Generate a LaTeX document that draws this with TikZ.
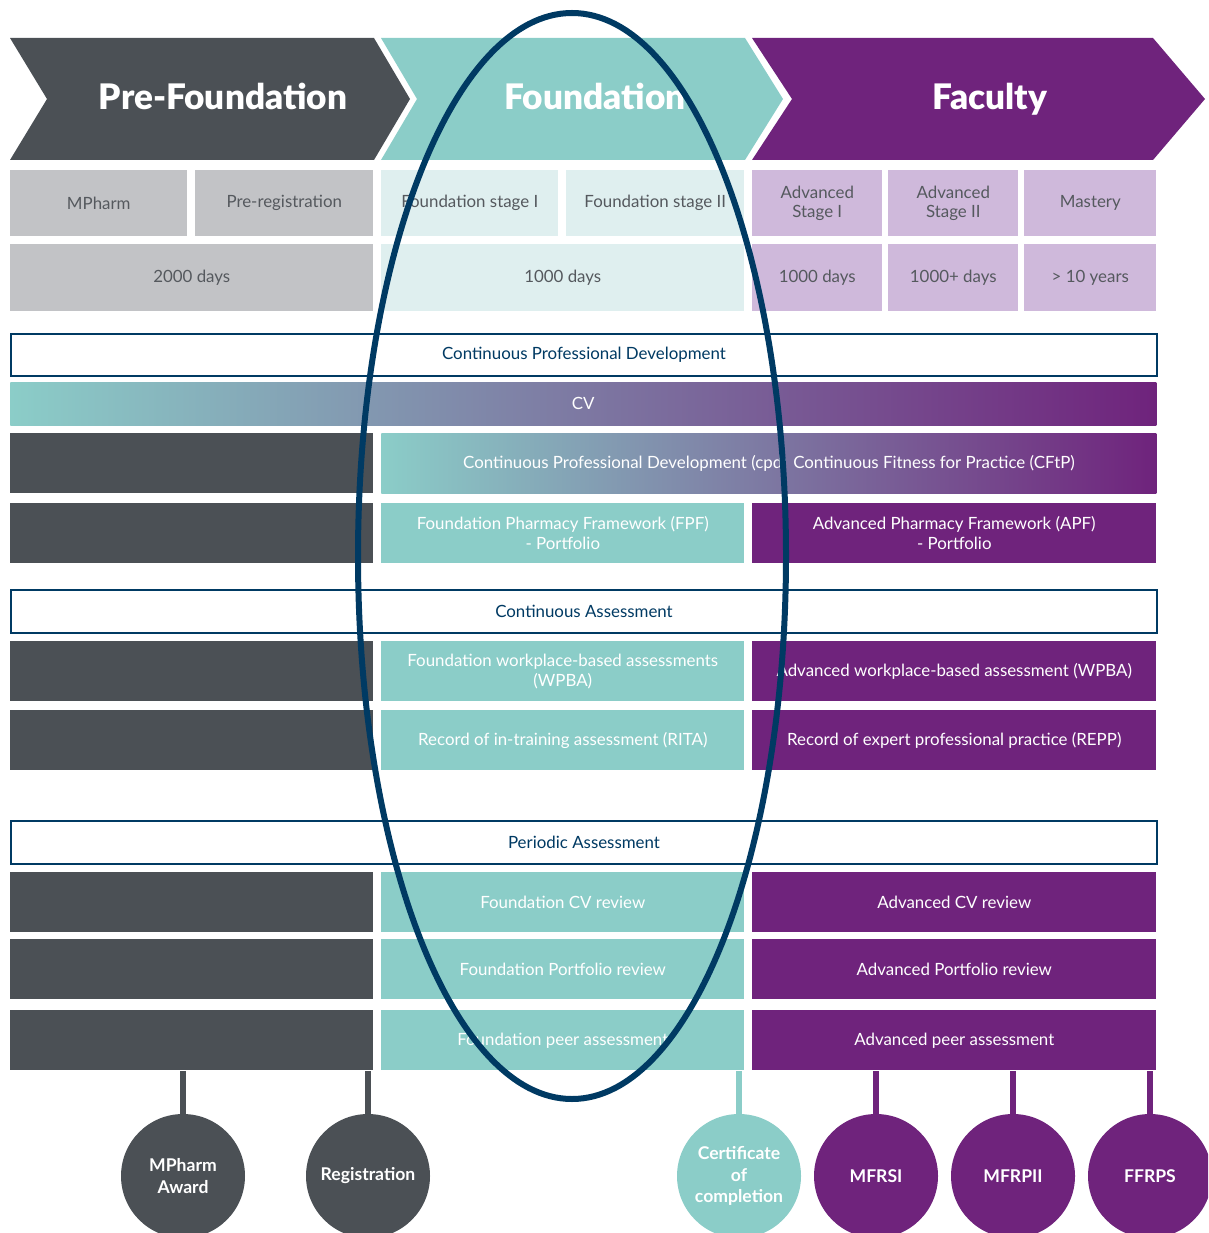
\documentclass[tikz,border=0pt]{standalone}
\usepackage{fontspec}
\setmainfont{Lato}
\IfFontExistsTF{Lato Black}
  {\newfontfamily\heavyfont{Lato Black}}
  {\newfontfamily\heavyfont{Lato}[UprightFont=*-Bold]}
\usetikzlibrary{positioning}

\definecolor{pfgrey}{HTML}{4B5055}
\definecolor{pflight}{HTML}{C2C3C6}
\definecolor{fteal}{HTML}{8BCDC8}
\definecolor{flight}{HTML}{DFEFEF}
\definecolor{facpurple}{HTML}{6F237C}
\definecolor{faclight}{HTML}{CFB9DB}
\definecolor{navy}{HTML}{003A63}
\definecolor{labelgrey}{HTML}{55595E}

\newcommand\px{0.025cm}

\tikzset{
  cell/.style 2 args={anchor=north west, minimum width=#1*\px, minimum height=#2*\px,
    inner sep=0pt, align=center, font=\fontsize{12}{14}\selectfont},
  stage/.style={fill=#1, text=labelgrey},
  bar/.style={fill=#1, text=white},
  band/.style={draw=navy, line width=2*\px, fill=white, text=navy},
  title/.style={anchor=base, inner sep=0pt, text=white, font=\fontsize{25}{28}\selectfont\heavyfont},
  award/.style={circle, fill=#1, minimum size=124*\px, inner sep=0pt, align=center,
    text=white, font=\fontsize{12.5}{15.5}\selectfont\bfseries},
  link/.style={draw=#1, line width=6*\px},
}

\begin{document}
\begin{tikzpicture}[x=0.025cm, y=-0.025cm]
  \clip (0,0) rectangle (1208,1233);

  % stage arrows
  \fill[pfgrey] (10,38) -- (374,38) -- (410,99) -- (374,160) -- (10,160) -- (47,99) -- cycle;
  \fill[fteal] (381,38) -- (745,38) -- (783,99) -- (745,160) -- (381,160) -- (417,99) -- cycle;
  \fill[facpurple] (752,38) -- (1153,38) -- (1205,99) -- (1153,160) -- (752,160) -- (792,99) -- cycle;
  \node[title] (hpre) at (223,110) {Pre-Foundation};
  \node[title] (hfound) at (595,110) {Foundation};
  \node[title] (hfac) at (990,110) {Faculty};

  % stages
  \node[cell={177}{66}, stage=pflight] (mpharm) at (10,170) {MPharm};
  \node[cell={178}{66}, stage=pflight] (prereg) at (195,170) {Pre-registration};
  \node[cell={177}{66}, stage=flight] (fs1) at (381,170) {Foundation stage I};
  \node[cell={178}{66}, stage=flight] (fs2) at (566,170) {Foundation stage II};
  \node[cell={130}{66}, stage=faclight] (as1) at (752,170) {Advanced\\Stage I};
  \node[cell={130}{66}, stage=faclight] (as2) at (888,170) {Advanced\\Stage II};
  \node[cell={132}{66}, stage=faclight] (mastery) at (1024,170) {Mastery};

  % durations
  \node[cell={363}{67}, stage=pflight] (dpre) at (10,244) {2000 days};
  \node[cell={363}{67}, stage=flight] (dfound) at (381,244) {1000 days};
  \node[cell={130}{67}, stage=faclight] (das1) at (752,244) {1000 days};
  \node[cell={130}{67}, stage=faclight] (das2) at (888,244) {1000+ days};
  \node[cell={132}{67}, stage=faclight] (dmast) at (1024,244) {> 10 years};

  % continuous professional development
  \node[cell={1146}{42}, band] (cpd) at (10,333) {Continuous Professional Development};
  \node[cell={1146}{43}, left color=fteal, right color=facpurple, text=white] (cv) at (10,382) {CV};
  \node[cell={363}{60}, bar=pfgrey] (precpd) at (10,433) {};
  \node[cell={775}{60}, left color=fteal, right color=facpurple] (cpdbar) at (381,433) {};
  \node[anchor=east, text=white, inner sep=0pt, font=\fontsize{12}{14}\selectfont]
    (cpdtxt) at (787,463) {Continuous Professional Development (cpd)};
  \node[anchor=west, text=white, inner sep=0pt, font=\fontsize{12}{14}\selectfont]
    (cftp) at (793,463) {Continuous Fitness for Practice (CFtP)};
  \node[cell={363}{60}, bar=pfgrey] (preport) at (10,503) {};
  \node[cell={363}{60}, bar=fteal] (fpf) at (381,503) {Foundation Pharmacy Framework (FPF)\\- Portfolio};
  \node[cell={404}{60}, bar=facpurple] (apf) at (752,503) {Advanced Pharmacy Framework (APF)\\- Portfolio};

  % continuous assessment
  \node[cell={1146}{43}, band] (ca) at (10,589) {Continuous Assessment};
  \node[cell={363}{60}, bar=pfgrey] (prewpba) at (10,641) {};
  \node[cell={363}{60}, bar=fteal] (fwpba) at (381,641) {Foundation workplace-based assessments\\(WPBA)};
  \node[cell={404}{60}, bar=facpurple] (awpba) at (752,641) {Advanced workplace-based assessment (WPBA)};
  \node[cell={363}{60}, bar=pfgrey] (prerita) at (10,710) {};
  \node[cell={363}{60}, bar=fteal] (rita) at (381,710) {Record of in-training assessment (RITA)};
  \node[cell={404}{60}, bar=facpurple] (repp) at (752,710) {Record of expert professional practice (REPP)};

  % periodic assessment
  \node[cell={1146}{43}, band] (pa) at (10,820) {Periodic Assessment};
  \node[cell={363}{60}, bar=pfgrey] (precv) at (10,872) {};
  \node[cell={363}{60}, bar=fteal] (fcv) at (381,872) {Foundation CV review};
  \node[cell={404}{60}, bar=facpurple] (acv) at (752,872) {Advanced CV review};
  \node[cell={363}{60}, bar=pfgrey] (prepr) at (10,939) {};
  \node[cell={363}{60}, bar=fteal] (fpr) at (381,939) {Foundation Portfolio review};
  \node[cell={404}{60}, bar=facpurple] (apr) at (752,939) {Advanced Portfolio review};
  \node[cell={363}{60}, bar=pfgrey] (prepeer) at (10,1010) {};
  \node[cell={363}{60}, bar=fteal] (fpeer) at (381,1010) {Foundation peer assessment};
  \node[cell={404}{60}, bar=facpurple] (apeer) at (752,1010) {Advanced peer assessment};

  % awards
  \node[award=pfgrey] (mpaward) at (183,1176) {MPharm\\Award};
  \node[award=pfgrey] (regist) at (368,1176) {Registration};
  \node[award=fteal] (cert) at (739,1176) {Certificate\\of\\completion};
  \node[award=facpurple] (mfrsi) at (876,1176) {MFRSI};
  \node[award=facpurple] (mfrp) at (1013,1176) {MFRPII};
  \node[award=facpurple] (ffrps) at (1150,1176) {FFRPS};

  \draw[link=pfgrey] (mpaward.north) -- (mpaward.north |- prepeer.south);
  \draw[link=pfgrey] (regist.north) -- (regist.north |- prepeer.south);
  \draw[link=fteal] (cert.north) -- (cert.north |- fpeer.south);
  \draw[link=facpurple] (mfrsi.north) -- (mfrsi.north |- apeer.south);
  \draw[link=facpurple] (mfrp.north) -- (mfrp.north |- apeer.south);
  \draw[link=facpurple] (ffrps.north) -- (ffrps.north |- apeer.south);

  % foundation highlight
  \draw[navy, line width=6*\px] (572,556) ellipse [x radius=214*\px, y radius=543*\px];
\end{tikzpicture}
\end{document}
